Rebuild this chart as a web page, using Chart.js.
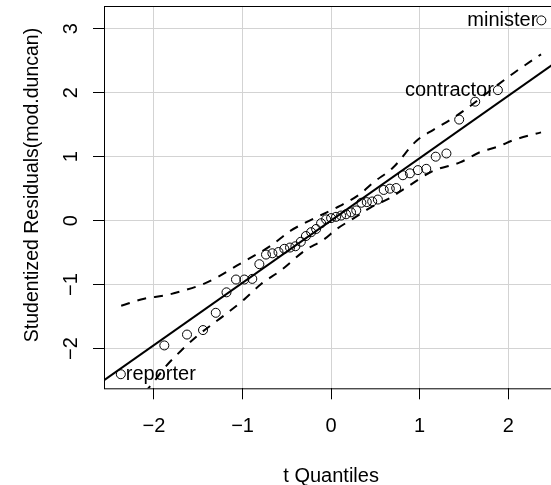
<!DOCTYPE html>
<html><head><meta charset="utf-8">
<script src="https://cdn.jsdelivr.net/npm/chart.js@4"></script>
<style>html,body{margin:0;padding:0;background:#fff;overflow:hidden;}canvas{display:block;}</style>
</head><body>
<canvas id="c" width="551" height="485"></canvas>
<script>
// theoretical t quantiles (x) and sorted studentized residuals (y)
const tQuantiles = [-2.374, -1.883, -1.627, -1.446, -1.302, -1.181, -1.074, -0.980, -0.890, -0.810, -0.735, -0.663, -0.594, -0.528, -0.464, -0.403, -0.342, -0.284, -0.225, -0.169, -0.113, -0.056, 0, 0.056, 0.113, 0.169, 0.225, 0.284, 0.342, 0.403, 0.464, 0.528, 0.594, 0.663, 0.735, 0.810, 0.890, 0.980, 1.074, 1.181, 1.302, 1.446, 1.627, 1.883, 2.374];
const studentizedResiduals = [-2.40, -1.95, -1.78, -1.71, -1.44, -1.12, -0.92, -0.92, -0.91, -0.68, -0.53, -0.51, -0.49, -0.44, -0.42, -0.40, -0.33, -0.24, -0.18, -0.13, -0.04, 0.02, 0.04, 0.06, 0.08, 0.10, 0.13, 0.16, 0.28, 0.29, 0.30, 0.33, 0.48, 0.50, 0.51, 0.71, 0.74, 0.79, 0.81, 1.00, 1.05, 1.58, 1.86, 2.04, 3.13];

// reference line end points
const refLineX = [-2.6, 2.6];
const refLineY = [-2.53, 2.535];

// confidence envelope (dashed)
const upperEnvX = [-2.37, -2.11, -1.88, -1.66, -1.46, -1.28, -1.06, -0.68, -0.46, -0.29, 0.10, 0.33, 0.48, 0.70, 0.965, 1.155, 1.36, 1.53, 1.85, 2.075, 2.37];
const upperEnvY = [-1.33, -1.22, -1.17, -1.09, -1.00, -0.88, -0.70, -0.39, -0.16, -0.03, 0.23, 0.42, 0.60, 0.83, 1.25, 1.42, 1.59, 1.75, 2.09, 2.32, 2.60];
const lowerEnvX = [-2.37, -2.02, -1.88, -1.70, -1.51, -1.17, -0.98, -0.79, -0.57, -0.29, -0.087, 0.064, 0.27, 0.44, 0.67, 0.85, 1.155, 1.455, 1.68, 1.89, 2.06, 2.37];
const lowerEnvY = [-3.08, -2.55, -2.30, -2.04, -1.80, -1.44, -1.23, -0.99, -0.78, -0.46, -0.30, -0.13, 0.05, 0.20, 0.36, 0.52, 0.78, 0.91, 1.07, 1.16, 1.26, 1.38];

// ticks
const xTickValues = [-2, -1, 0, 1, 2];
const xTickLabels = ['\u22122', '\u22121', '0', '1', '2'];
const yTickValues = [-2, -1, 0, 1, 2, 3];
const yTickLabels = ['\u22122', '\u22121', '0', '1', '2', '3'];

// labelled points
const labelledIndex = [0, 43, 44];
const labelledNames = ['reporter', 'contractor', 'minister'];
const labelledSide = ['right', 'left', 'left'];

const xTitle = 't Quantiles';
const yTitle = 'Studentized Residuals(mod.duncan)';

const FONT = '"Liberation Sans", Arial, Helvetica, sans-serif';
const FS = 20;

const toPts = (xs, ys) => xs.map((x, i) => ({x: x, y: ys[i]}));

// plot region as in the original R device (right edge lies just outside the crop)
const AREA = {left: 104, top: 6, right: 558.2, bottom: 388.3};

const overlay = {
  id: 'overlay',
  afterLayout(chart) {
    const ca = chart.chartArea;
    ca.left = AREA.left; ca.top = AREA.top; ca.right = AREA.right; ca.bottom = AREA.bottom;
    ca.width = AREA.right - AREA.left; ca.height = AREA.bottom - AREA.top;
    const xs = chart.scales.x, ys = chart.scales.y;
    xs.left = AREA.left; xs.right = AREA.right; xs.width = ca.width;
    xs.top = AREA.bottom; xs.bottom = 488; xs.height = xs.bottom - xs.top;
    ys.left = 0; ys.right = AREA.left; ys.width = AREA.left;
    ys.top = AREA.top; ys.bottom = AREA.bottom; ys.height = ca.height;
    xs.configure(); ys.configure();
  },
  afterDraw(chart) {
    const ctx = chart.ctx;
    const a = chart.chartArea;
    ctx.save();
    // box
    ctx.strokeStyle = '#000';
    ctx.lineWidth = 1;
    ctx.strokeRect(Math.round(a.left) + 0.5, Math.round(a.top) + 0.5, a.right - a.left, a.bottom - a.top);
    const ys = chart.scales.y;
    ctx.fillStyle = '#000';
    ctx.font = FS + 'px ' + FONT;
    ctx.textAlign = 'center';
    ctx.textBaseline = 'middle';
    // y tick labels (rotated, as in R)
    yTickValues.forEach((v, i) => {
      const py = ys.getPixelForValue(v);
      ctx.save();
      ctx.translate(71, py);
      ctx.rotate(-Math.PI / 2);
      ctx.fillText(yTickLabels[i], 0, 0);
      ctx.restore();
    });
    // y title
    ctx.save();
    ctx.translate(33, 185);
    ctx.rotate(-Math.PI / 2);
    ctx.font = '19.5px ' + FONT;
    ctx.fillText(yTitle, 0, 0);
    ctx.restore();
    // point labels
    const meta = chart.getDatasetMeta(0);
    labelledIndex.forEach((idx, k) => {
      const el = meta.data[idx];
      if (labelledSide[k] === 'left') {
        ctx.textAlign = 'right';
        ctx.fillText(labelledNames[k], el.x - 4, el.y);
      } else {
        ctx.textAlign = 'left';
        ctx.fillText(labelledNames[k], el.x + 5, el.y);
      }
    });
    ctx.restore();
  }
};

new Chart(document.getElementById('c'), {
  type: 'scatter',
  data: {
    datasets: [
      {
        data: toPts(tQuantiles, studentizedResiduals),
        pointStyle: 'circle',
        pointRadius: 4.5,
        pointBorderWidth: 1,
        pointBorderColor: '#000',
        pointBackgroundColor: 'rgba(0,0,0,0)',
        showLine: false
      },
      {
        data: toPts(refLineX, refLineY),
        showLine: true,
        borderColor: '#000',
        borderWidth: 2,
        pointRadius: 0
      },
      {
        data: toPts(upperEnvX, upperEnvY),
        showLine: true,
        borderColor: '#000',
        borderWidth: 2,
        borderDash: [9, 8],
        cubicInterpolationMode: 'monotone',
        pointRadius: 0
      },
      {
        data: toPts(lowerEnvX, lowerEnvY),
        showLine: true,
        borderColor: '#000',
        borderWidth: 2,
        borderDash: [9, 8],
        cubicInterpolationMode: 'monotone',
        pointRadius: 0
      }
    ]
  },
  options: {
    responsive: false,
    devicePixelRatio: 1,
    animation: false,
    layout: { padding: { top: 6, right: 0, bottom: 0, left: 0 } },
    plugins: { legend: { display: false }, tooltip: { enabled: false } },
    scales: {
      x: {
        type: 'linear',
        position: 'bottom',
        min: -2.564,
        max: 2.564,
        afterBuildTicks: s => { s.ticks = xTickValues.map(v => ({value: v})); },
        afterFit: s => { s.height = 96.7; },
        grid: { color: '#d3d3d3', lineWidth: 1, tickColor: '#000', tickLength: 11, drawTicks: true },
        border: { display: false },
        ticks: {
          color: '#000',
          font: { family: FONT, size: FS },
          padding: 15,
          maxRotation: 0,
          callback: (v) => { const i = xTickValues.indexOf(v); return i >= 0 ? xTickLabels[i] : ''; }
        },
        title: { display: true, text: xTitle, color: '#000', font: { family: FONT, size: FS }, padding: { top: 0, bottom: 0 } }
      },
      y: {
        type: 'linear',
        position: 'left',
        min: -2.62,
        max: 3.355,
        afterBuildTicks: s => { s.ticks = yTickValues.map(v => ({value: v})); },
        afterFit: s => { s.width = 104; },
        grid: { color: '#d3d3d3', lineWidth: 1, tickColor: '#000', tickLength: 11, drawTicks: true },
        border: { display: false },
        ticks: { display: false },
        title: { display: false }
      }
    }
  },
  plugins: [overlay]
});
</script>
</body></html>
